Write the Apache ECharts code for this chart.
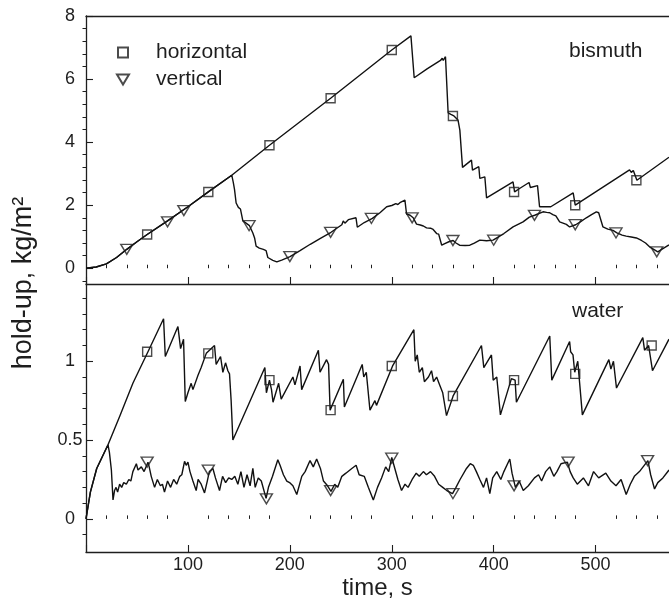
<!DOCTYPE html>
<html><head><meta charset="utf-8">
<script src="https://cdn.jsdelivr.net/npm/echarts@6/dist/echarts.min.js"></script>
<style>html,body{margin:0;padding:0;background:#fff}#c{width:669px;height:601px}</style>
</head><body><div id="c"></div>
<script>
// ---------- tick labels ----------
const xMajor = [0,100,200,300,400,500];
const xLabels = [100,200,300,400,500];
const xMinor = [20,40,60,80,120,140,160,180,220,240,260,280,320,340,360,380,420,440,460,480,520,540,560];
const biYTicks = [0,2,4,6,8];
const biYMinor = [-0.4,0.4,0.8,1.2,1.6,2.4,2.8,3.2,3.6,4.4,4.8,5.2,5.6,6.4,6.8,7.2,7.6];
const waYTicks = [0,0.5,1];
const waYMinor = [-0.1,0.1,0.2,0.3,0.4,0.6,0.7,0.8,0.9,1.1,1.2,1.3,1.4];

// ---------- bismuth (top panel) ----------
const biHorizontal = [[0,0],[10,0.04],[20,0.14],[30,0.34],[40,0.6],[50,0.84],[60,1.07],[80,1.5],[100,1.95],[120,2.42],[143,2.95],[180,3.9],[240,5.39],[300,6.92],[318.8,7.37],[322,6.04],[335,6.33],[347.8,6.59],[349.5,6.66],[350.5,6.59],[352.7,6.71],[354,6.69],[355.3,4.93],[358,4.88],[361,4.83],[365,4.7],[366.8,4.38],[369.4,3.2],[378.2,3.43],[379.2,3.11],[385.4,3.22],[386.4,2.85],[391.3,2.9],[393,2.23],[419,2.74],[420.5,2.42],[425,2.52],[434.7,2.72],[436,2.56],[443,2.62],[445,1.95],[456,1.95],[478,2.39],[480,2.0],[533.3,3.12],[535,3.04],[537,3.1],[540.5,2.79],[572,3.52]];
const biVertical = [[0,0],[10,0.04],[20,0.14],[30,0.34],[40,0.6],[50,0.84],[60,1.07],[80,1.5],[100,1.95],[120,2.42],[143,2.95],[144.5,2.72],[145.7,2.5],[147.3,2.07],[149.5,1.93],[151.5,1.88],[153.9,1.5],[157,1.43],[160.4,1.35],[163.7,1.12],[165.5,0.95],[166.9,0.7],[170,0.64],[174,0.6],[176.7,0.56],[178.4,0.34],[183.3,0.25],[187.2,0.2],[192,0.26],[200.2,0.37],[210,0.56],[220,0.76],[230,0.95],[240.4,1.14],[251,1.38],[252.4,1.5],[254,1.43],[257.4,1.54],[259,1.5],[264.9,1.6],[266.2,1.3],[273,1.45],[281,1.58],[288.4,1.76],[295,1.95],[300,1.99],[304,2.05],[306,2.02],[308,2.08],[312.9,2.16],[314.5,1.72],[318,1.68],[321,1.6],[324.3,1.4],[328,1.37],[331,1.34],[334.1,1.28],[338,1.27],[340.6,1.23],[344,1.1],[346,1.08],[349,0.73],[352,0.78],[356,0.84],[360.2,0.88],[363,0.8],[366.5,0.73],[372,0.72],[376.6,0.73],[381,0.8],[386.4,0.89],[393,0.87],[399.4,0.89],[410,1.1],[419,1.31],[428.8,1.47],[435,1.62],[440.2,1.68],[448.4,1.79],[452,1.77],[455,1.76],[458,1.7],[461,1.66],[464.7,1.47],[468,1.43],[471.3,1.39],[474.5,1.31],[480.4,1.38],[485,1.47],[490.9,1.6],[496,1.7],[500.7,1.79],[503,1.76],[507.2,1.31],[512,1.24],[517,1.2],[520.9,1.12],[526,1.05],[530,1.02],[535,0.99],[540,0.96],[545,0.88],[549,0.8],[552.9,0.68],[557,0.6],[561,0.52],[566,0.62],[572,0.74]];
const biHMarkers = [[60,1.07],[120,2.42],[180,3.9],[240,5.39],[300,6.92],[360,4.83],[420,2.42],[480,2.0],[540,2.79]];
const biVMarkers = [[40,0.6],[80,1.47],[96,1.83],[160,1.35],[200,0.37],[240,1.14],[280,1.58],[320,1.6],[360,0.88],[400,0.89],[440,1.68],[480,1.38],[520,1.12],[560,0.52]];

// ---------- water (bottom panel) ----------
const waHorizontal = [[0,0],[2,0.08],[4.3,0.17],[10.5,0.32],[21.6,0.47],[33,0.65],[46,0.86],[60.8,1.06],[76.1,1.27],[77.8,1.03],[90.2,1.22],[92.8,1.08],[95.7,1.14],[97.4,0.745],[100,0.8],[103.2,0.86],[104.9,0.82],[109.8,0.91],[113,0.96],[118,1.05],[126.1,1.1],[127.7,0.98],[132,1.03],[134.3,0.93],[136.9,0.99],[139.2,0.94],[140.8,0.92],[142.4,0.75],[144.1,0.5],[175.5,0.96],[177,0.8],[180,0.88],[182,0.82],[183.5,0.74],[189,0.86],[191.5,0.76],[203,0.9],[205,0.85],[210,0.97],[211.6,0.82],[228,1.07],[229.6,0.93],[236,1.01],[238,0.98],[239.5,0.69],[252.5,0.886],[253.5,0.71],[271,0.98],[272.5,0.9],[275,0.93],[278.6,0.69],[283.5,0.75],[285,0.72],[300.8,0.97],[321.7,1.2],[323,1.0],[325,1.04],[327,0.93],[330,0.96],[332,0.87],[336,0.9],[339,0.94],[341,0.87],[344,0.9],[347,0.85],[350,0.8],[353.7,0.655],[360.2,0.78],[388,1.1],[390.3,0.96],[397.8,1.04],[399.5,0.88],[403,0.9],[406.6,0.66],[417.4,0.89],[421,0.88],[422.3,0.74],[455,1.16],[457,0.88],[474.5,1.125],[475.5,1.06],[477.8,1.04],[479.5,0.93],[480.5,0.92],[482.5,1.0],[487,0.66],[513,1.01],[515,0.95],[517.5,1.0],[520.5,0.83],[546.3,1.15],[548,1.07],[552,1.1],[555.8,0.94],[572,1.14]];
const waVertical = [[0,0],[2,0.08],[4.3,0.17],[10.5,0.32],[21.6,0.47],[23,0.42],[24.9,0.31],[26.5,0.12],[28,0.18],[29.5,0.2],[31,0.17],[33,0.22],[35,0.2],[37,0.23],[39.6,0.22],[42,0.25],[44,0.24],[46,0.3],[49.4,0.35],[51,0.31],[54.3,0.33],[57,0.3],[60.8,0.36],[62,0.33],[64,0.27],[67.3,0.2],[70,0.25],[73,0.21],[75,0.22],[77,0.17],[80,0.24],[83,0.2],[86,0.25],[89,0.22],[92,0.27],[94,0.28],[96.7,0.365],[98.3,0.34],[100,0.36],[102,0.3],[104.9,0.24],[108.1,0.18],[110,0.25],[113,0.22],[116.3,0.165],[119,0.24],[121,0.3],[124.5,0.32],[127,0.26],[131,0.18],[134,0.27],[137,0.23],[140,0.26],[143,0.25],[146,0.27],[149,0.22],[152,0.3],[155,0.2],[158,0.28],[161,0.21],[163.7,0.32],[166,0.2],[169,0.26],[172,0.24],[176.7,0.13],[179,0.2],[183,0.27],[188.2,0.375],[190.4,0.34],[193.7,0.28],[197,0.24],[200.2,0.228],[203,0.21],[206.8,0.155],[211.7,0.27],[215,0.3],[219.8,0.37],[223,0.33],[226.3,0.38],[230,0.32],[233,0.24],[237,0.21],[240.4,0.175],[244,0.22],[247,0.2],[251,0.27],[255,0.29],[260.8,0.32],[265,0.34],[268,0.28],[273,0.27],[277,0.2],[281.9,0.12],[286,0.2],[290,0.26],[294,0.33],[297,0.3],[300,0.39],[303,0.32],[306,0.25],[309.6,0.18],[313,0.22],[316,0.2],[320,0.25],[324,0.29],[327,0.27],[331,0.3],[334,0.28],[338,0.3],[342,0.27],[346,0.22],[350,0.2],[354,0.18],[359.6,0.16],[363,0.2],[367,0.25],[373.3,0.32],[377,0.35],[380,0.34],[383,0.3],[386.4,0.25],[390,0.2],[393,0.26],[396.2,0.16],[399,0.26],[403,0.3],[407,0.25],[410,0.3],[415.8,0.38],[418,0.29],[421.3,0.2],[425,0.24],[429,0.18],[434,0.21],[440,0.26],[444,0.28],[447,0.24],[451,0.3],[455,0.33],[459,0.27],[462,0.3],[466,0.35],[472.3,0.36],[475,0.3],[478,0.26],[482,0.22],[488,0.26],[493,0.21],[498,0.3],[503,0.26],[510,0.29],[515,0.24],[520,0.21],[525,0.25],[530,0.155],[534,0.22],[538,0.27],[543,0.3],[551.3,0.37],[554,0.28],[557.8,0.19],[561,0.23],[566,0.26],[572,0.31]];
const waHMarkers = [[60,1.06],[120,1.05],[180,0.88],[240,0.69],[300,0.97],[360,0.78],[420,0.88],[480,0.92],[555,1.1]];
const waVMarkers = [[60,0.36],[120,0.31],[177,0.127],[240,0.18],[300,0.385],[360,0.16],[420,0.21],[473,0.36],[551,0.37]];

const FONT = 'Liberation Sans, Arial, sans-serif';
const INK = '#1e1e1e';
const SQ = 'path://M0,0L10,0L10,10L0,10Z';
const TRI = 'path://M0,0L12,0L6,10Z';

const chart = echarts.init(document.getElementById('c'), null, {renderer:'canvas'});

function xAx(grid, opts){
  return Object.assign({type:'value', gridIndex:grid, min:0, max:572, splitLine:{show:false},
    axisLine:{show:true, onZero:false, lineStyle:{color:INK, width:1.3}},
    axisTick:{show:false}, axisLabel:{show:false}}, opts);
}
function yAx(grid, min, max, opts){
  return Object.assign({type:'value', gridIndex:grid, min:min, max:max, splitLine:{show:false},
    axisLine:{show:true, onZero:false, lineStyle:{color:INK, width:1.3}},
    axisTick:{show:false}, axisLabel:{show:false}}, opts);
}
const tickMajor = vals => ({show:true, inside:true, length:7, customValues:vals, lineStyle:{color:INK, width:1.1}});
const tickMinor = vals => ({show:true, inside:true, length:3.5, customValues:vals, lineStyle:{color:INK, width:1}});
const lab = vals => ({show:true, customValues:vals, fontSize:18, fontFamily:FONT, color:INK});

const option = {
  backgroundColor:'#fff',
  animation:false,
  grid:[
    {left:86, right:0, top:16, height:268},
    {left:86, right:0, top:284, height:269}
  ],
  xAxis:[
    xAx(0, {position:'bottom', axisTick:tickMajor(xMajor)}),
    xAx(1, {position:'bottom', axisTick:tickMajor(xMajor),
      axisLabel:Object.assign(lab(xLabels), {margin:4}),
      name:'time, s', nameLocation:'middle', nameGap:24,
      nameTextStyle:{fontSize:24, fontFamily:FONT, color:INK}}),
    xAx(0, {position:'bottom', axisLine:{show:false}, axisTick:tickMinor(xMinor)}),
    xAx(1, {position:'bottom', axisLine:{show:false}, axisTick:tickMinor(xMinor)}),
    xAx(0, {position:'top'})
  ],
  yAxis:[
    yAx(0, -0.5, 8, {axisTick:tickMajor(biYTicks), axisLabel:Object.assign(lab(biYTicks), {align:'center', margin:16})}),
    yAx(0, -0.5, 8, {axisLine:{show:false}, axisTick:tickMinor(biYMinor)}),
    yAx(1, -0.21, 1.49, {axisTick:tickMajor(waYTicks), axisLabel:Object.assign(lab(waYTicks), {align:'center', margin:16})}),
    yAx(1, -0.21, 1.49, {axisLine:{show:false}, axisTick:tickMinor(waYMinor)})
  ],
  legend:{
    data:[{name:'horizontal', icon:SQ}, {name:'vertical', icon:TRI}],
    orient:'vertical', left:111, top:37, itemWidth:56, itemHeight:10, itemGap:6,
    selectedMode:false,
    textStyle:{fontSize:21, fontFamily:FONT, color:INK}
  },
  graphic:[
    {type:'text', x:24, y:283, rotation:Math.PI/2,
      style:{text:'hold-up, kg/m²', fontSize:27, fontFamily:FONT, fill:INK, align:'center', verticalAlign:'middle', textAlign:'center', textVerticalAlign:'middle'}},
    {type:'text', x:569, y:51,
      style:{text:'bismuth', fontSize:21, fontFamily:FONT, fill:INK, align:'left', verticalAlign:'middle', textAlign:'left', textVerticalAlign:'middle'}},
    {type:'text', x:572, y:311,
      style:{text:'water', fontSize:21, fontFamily:FONT, fill:INK, align:'left', verticalAlign:'middle', textAlign:'left', textVerticalAlign:'middle'}}
  ],
  series:[
    {type:'line', name:'bi-h', xAxisIndex:0, yAxisIndex:0, data:biHorizontal, showSymbol:false, lineStyle:{color:'#111', width:1.4}, z:2},
    {type:'line', name:'bi-v', xAxisIndex:0, yAxisIndex:0, data:biVertical, showSymbol:false, lineStyle:{color:'#111', width:1.4}, z:2},
    {type:'line', name:'wa-h', xAxisIndex:1, yAxisIndex:2, data:waHorizontal, showSymbol:false, lineStyle:{color:'#111', width:1.4}, z:2},
    {type:'line', name:'wa-v', xAxisIndex:1, yAxisIndex:2, data:waVertical, showSymbol:false, lineStyle:{color:'#111', width:1.4}, z:2},
    {type:'scatter', name:'horizontal', xAxisIndex:0, yAxisIndex:0, data:biHMarkers, symbol:SQ, symbolSize:9,
      itemStyle:{color:'rgba(0,0,0,0)', borderColor:INK, borderWidth:1.4}, z:3},
    {type:'scatter', name:'vertical', xAxisIndex:0, yAxisIndex:0, data:biVMarkers, symbol:TRI, symbolSize:[12,10],
      itemStyle:{color:'rgba(0,0,0,0)', borderColor:INK, borderWidth:1.4}, z:3},
    {type:'scatter', name:'horizontal', xAxisIndex:1, yAxisIndex:2, data:waHMarkers, symbol:SQ, symbolSize:9,
      itemStyle:{color:'rgba(0,0,0,0)', borderColor:INK, borderWidth:1.4}, z:3},
    {type:'scatter', name:'vertical', xAxisIndex:1, yAxisIndex:2, data:waVMarkers, symbol:TRI, symbolSize:[12,10],
      itemStyle:{color:'rgba(0,0,0,0)', borderColor:INK, borderWidth:1.4}, z:3}
  ]
};
chart.setOption(option);
</script>
</body></html>
